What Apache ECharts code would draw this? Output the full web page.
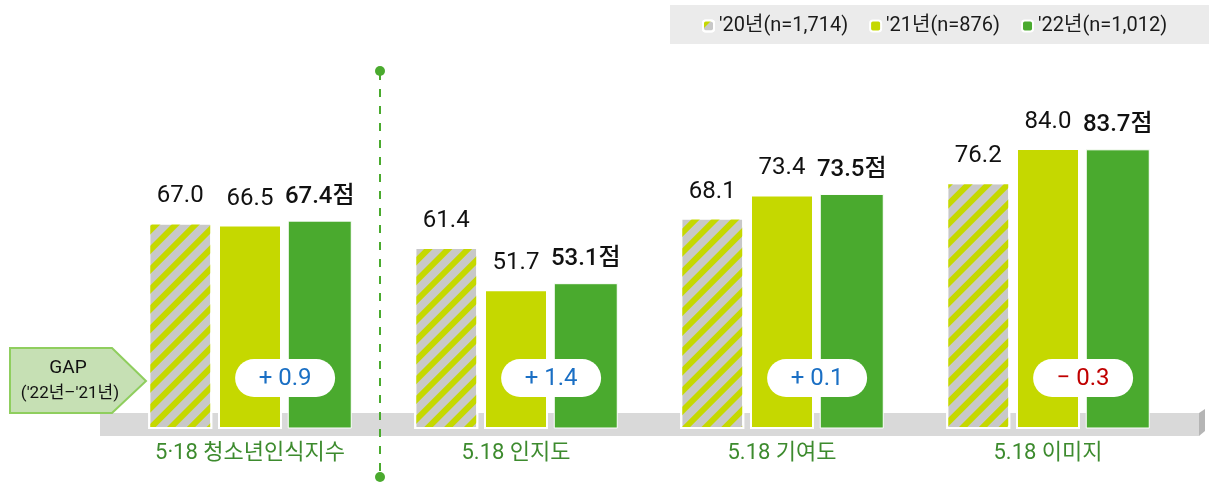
<!DOCTYPE html>
<html><head><meta charset="utf-8">
<script src="https://cdn.jsdelivr.net/npm/echarts@6/dist/echarts.min.js"></script>
<style>html,body{margin:0;padding:0;background:#fff;}#c{width:1209px;height:483px;}</style>
</head><body><div id="c"></div>
<script>
const categories = ['5·18 청소년인식지수', '5.18 인지도', '5.18 기여도', '5.18 이미지'];
const seriesNames = ["'20년(n=1,714)", "'21년(n=876)", "'22년(n=1,012)"];
const values2020 = [67.0, 61.4, 68.1, 76.2];
const values2021 = [66.5, 51.7, 73.4, 84.0];
const values2022 = [67.4, 53.1, 73.5, 83.7];
const gapLabels = ['+ 0.9', '+ 1.4', '+ 0.1', '− 0.3'];
const gapValues = [0.9, 1.4, 0.1, -0.3];

const FONT = "Roboto, 'Noto Sans CJK KR', sans-serif";
const GRAY = '#c8c8c8', LIME = '#c5d800', GREEN = '#4aaa2e';

const chart = echarts.init(document.getElementById('c'));
const labelBase = {show: true, position: 'top', distance: 14, fontSize: 24, color: '#111', fontFamily: FONT};
chart.setOption({
  animation: false,
  backgroundColor: '#fff',
  grid: {left: 117, right: 28, top: 78, bottom: 55},
  legend: {
    left: 697, top: 11, itemWidth: 11, itemHeight: 11, itemGap: 21,
    data: seriesNames,
    textStyle: {fontSize: 20, color: '#1a1a1a', fontFamily: FONT}
  },
  xAxis: {
    type: 'category', data: categories,
    axisLine: {show: false}, axisTick: {show: false},
    axisLabel: {color: '#3d8b2e', fontSize: 22, fontFamily: FONT, margin: 14}
  },
  yAxis: {type: 'value', min: 20, max: 100, show: false, splitLine: {show: false}},
  series: [
    {name: seriesNames[0], type: 'bar', data: values2020, barWidth: 64, barGap: '9%', z: 3,
     itemStyle: {color: GRAY, borderColor: '#fff', borderWidth: 2,
       decal: {symbol: 'rect', symbolSize: 1, dashArrayX: [1, 0], dashArrayY: [6, 8], rotation: -Math.PI / 4, color: LIME}},
     label: Object.assign({}, labelBase, {formatter: p => p.value.toFixed(1)})},
    {name: seriesNames[1], type: 'bar', data: values2021, barWidth: 64, barGap: '9%', z: 3,
     itemStyle: {color: LIME, borderColor: '#fff', borderWidth: 2},
     label: Object.assign({}, labelBase, {formatter: p => p.value.toFixed(1)})},
    {name: seriesNames[2], type: 'bar', data: values2022, barWidth: 64, barGap: '9%', z: 3,
     itemStyle: {color: GREEN, borderColor: '#fff', borderWidth: 1},
     label: Object.assign({}, labelBase, {distance: 12, fontWeight: 500, formatter: p => p.value.toFixed(1) + '점'})}
  ]
});

// decorations computed from the axes
const centers = categories.map((c, i) => chart.convertToPixel({xAxisIndex: 0}, i));
const baseY = chart.convertToPixel({yAxisIndex: 0}, 20);
const step = centers[1] - centers[0];
const sepX = (centers[0] + centers[1]) / 2 - 3;
const graphics = [
  {type: 'rect', z: -5, shape: {x: 670, y: 5, width: 539, height: 39}, style: {fill: '#ebebeb'}},
  {type: 'rect', z: -2, shape: {x: 100, y: baseY - 15, width: 1099, height: 23}, style: {fill: '#d9d9d9'}},
  {type: 'polygon', z: -2, shape: {points: [[1199, baseY - 15], [1205, baseY - 19], [1205, baseY + 3], [1199, baseY + 8]]}, style: {fill: '#b5b5b5'}},
  {type: 'polygon', z: 5, shape: {points: [[10, 348], [112, 348], [146, 381], [112, 413], [10, 413]]},
   style: {fill: '#c6e0b4', stroke: '#8fce5e', lineWidth: 2}},
  {type: 'text', z: 6, style: {x: 68, y: 368, text: 'GAP', fill: '#111', fontSize: 19, fontFamily: FONT, textAlign: 'center', textVerticalAlign: 'middle'}},
  {type: 'text', z: 6, style: {x: 70, y: 394, text: "('22년–'21년)", fill: '#111', fontSize: 17, fontFamily: FONT, textAlign: 'center', textVerticalAlign: 'middle'}},
  {type: 'line', z: 1, shape: {x1: sepX, y1: 72, x2: sepX, y2: 477}, style: {stroke: GREEN, lineWidth: 2, lineDash: [8, 9]}},
  {type: 'circle', z: 1, shape: {cx: sepX, cy: 71, r: 5}, style: {fill: GREEN}},
  {type: 'circle', z: 1, shape: {cx: sepX, cy: 477, r: 5}, style: {fill: GREEN}}
];
centers.forEach((cx, i) => {
  const px = cx + step * 0.132;
  graphics.push({type: 'rect', z: 20, shape: {x: px - 50, y: 359, width: 100, height: 38, r: 19}, style: {fill: '#fff'}});
  graphics.push({type: 'text', z: 21, style: {x: px, y: 379, text: gapLabels[i], fill: gapValues[i] < 0 ? '#c00000' : '#1a6fc4',
    fontSize: 24, fontFamily: FONT, textAlign: 'center', textVerticalAlign: 'middle'}});
});
chart.setOption({graphic: graphics});
</script></body></html>
